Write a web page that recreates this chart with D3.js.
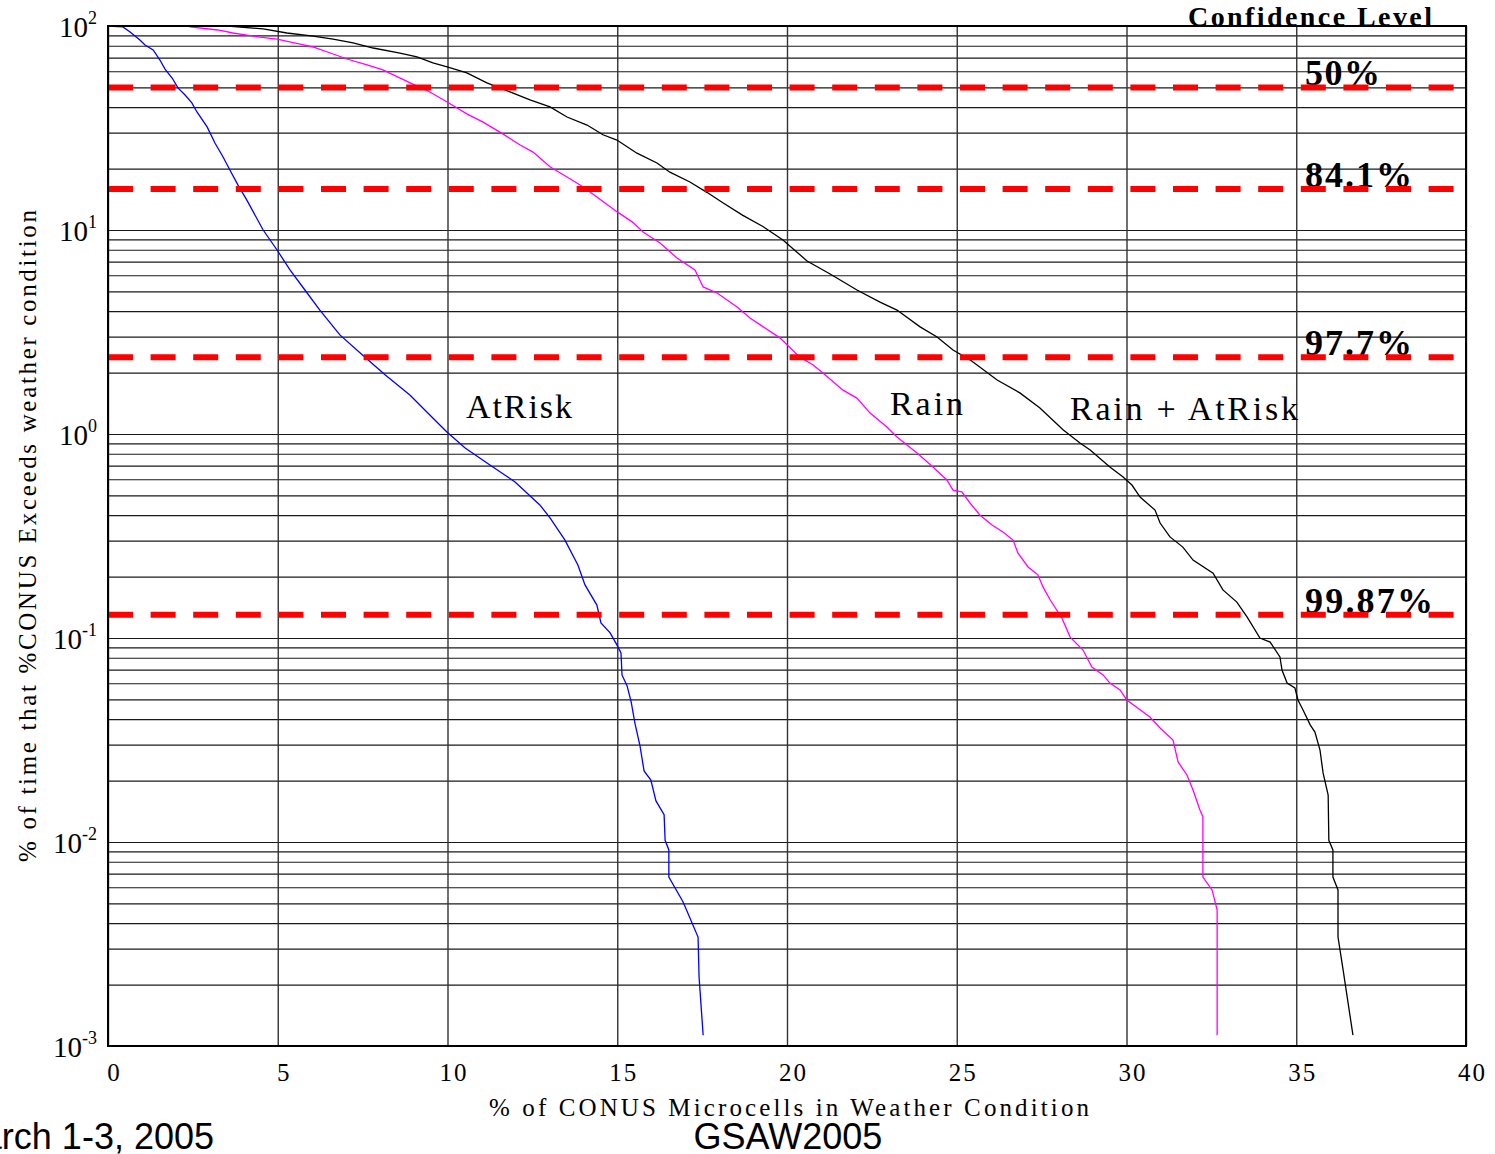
<!DOCTYPE html>
<html>
<head>
<meta charset="utf-8">
<script src="https://cdn.jsdelivr.net/npm/d3@7"></script>
<style>
body { margin: 0; background: #fff; }
svg { display: block; }
</style>
</head>
<body>
<script>
// x: % of CONUS microcells, y: % of time exceeded (log)
var xTicks = [0, 5, 10, 15, 20, 25, 30, 35, 40];
var yExponents = [2, 1, 0, -1, -2, -3];

var atRiskX = [0, 0.44, 0.65, 0.94, 1.09, 1.33, 1.53, 1.68, 1.89, 2.06, 2.27, 2.47, 2.62, 2.92, 3.15, 3.39, 3.59, 3.83, 4.09,
    4.57, 4.98, 5.36, 5.80, 6.24, 6.83, 7.57, 8.16, 8.90, 9.48, 9.99, 10.52, 11.25, 11.99, 12.72, 13.02, 13.46, 13.84,
    14.05, 14.40, 14.52, 14.79, 14.99, 15.11, 15.14, 15.29, 15.41, 15.52, 15.67, 15.79, 15.99, 16.14, 16.38, 16.41,
    16.52, 16.52, 16.94, 17.38, 17.41, 17.53];
var atRiskY = [100, 99, 93.5, 85.4, 80.7, 76.3, 68.1, 61.5, 55.6, 49.7, 45.9, 42.0, 37.9, 32.0, 26.7, 22.8, 19.7, 16.6, 14.0,
    10.0, 7.98, 6.37, 5.08, 4.05, 3.06, 2.38, 1.95, 1.55, 1.24, 1.02, 0.854, 0.705, 0.582, 0.449, 0.388, 0.302, 0.228,
    0.182, 0.145, 0.1185, 0.106, 0.0925, 0.0844, 0.0659, 0.0582, 0.0486, 0.0383, 0.0296, 0.0223, 0.0201, 0.0159, 0.0136, 0.0102,
    0.00914, 0.00673, 0.00508, 0.00342, 0.00218, 0.00113];

var rainX = [0, 2.42, 2.42, 3.24, 3.68, 4.09, 4.48, 4.98, 5.66, 6.04, 6.63, 7.04, 7.63, 8.10, 8.90, 9.48, 9.99, 10.57, 11.05,
    11.63, 12.14, 12.52, 13.02, 13.52, 13.99, 14.40, 14.99, 15.46, 15.76, 16.26, 16.76, 17.29, 17.53, 17.94, 18.53, 18.91,
    19.79, 20.38, 20.77, 21.06, 21.65, 22.06, 22.44, 22.95, 23.24, 23.83, 24.30, 24.71, 24.89, 25.15, 25.39, 25.68, 26.04,
    26.36, 26.66, 26.80, 27.10, 27.39, 27.54, 27.75, 28.10, 28.34, 28.72, 28.98, 29.31, 29.51, 29.81, 30.01, 30.69, 30.99,
    31.37, 31.52, 31.78, 31.96, 32.16, 32.25, 32.25, 32.52, 32.67, 32.67];
var rainY = [100, 100, 99, 95.6, 92.4, 90.3, 88.3, 86.3, 81.6, 78.9, 72.9, 68.9, 64.4, 60.9, 52.6, 47.5, 42.4, 37.1, 33.8,
    29.6, 26.1, 24.1, 20.4, 18.2, 16.3, 14.5, 12.3, 10.9, 9.77, 8.63, 7.29, 6.37, 5.26, 4.91, 4.19, 3.70,
    2.96, 2.38, 2.18, 1.99, 1.64, 1.50, 1.27, 1.08, 0.966, 0.807, 0.689, 0.595, 0.531, 0.520, 0.459, 0.401, 0.358,
    0.331, 0.302, 0.261, 0.223, 0.204, 0.178, 0.154, 0.125, 0.101, 0.0873, 0.0721, 0.0659, 0.0601, 0.0556, 0.0497, 0.0410, 0.0362,
    0.0316, 0.0247, 0.0213, 0.0180, 0.0144, 0.0133, 0.00673, 0.00582, 0.00464, 0.00113];

var bothX = [0, 3.53, 4.57, 5.27, 6.04, 6.63, 7.22, 7.81, 8.60, 9.10, 9.57, 9.99, 10.57, 11.16, 11.84, 12.43, 13.02, 13.52,
    14.11, 14.58, 14.99, 15.58, 16.17, 16.55, 17.14, 17.64, 18.11, 18.70, 19.29, 19.88, 20.59, 21.27, 22.06, 22.74, 23.24,
    23.92, 24.42, 24.89, 25.39, 26.19, 26.86, 27.45, 28.13, 28.63, 28.93, 29.51, 29.90, 30.16, 30.40, 30.84, 30.99, 31.28,
    31.66, 31.96, 32.55, 32.84, 33.25, 33.55, 33.93, 34.23, 34.52, 34.58, 34.73, 34.96, 35.05, 35.20, 35.41, 35.55, 35.70,
    35.79, 35.94, 35.96, 36.08, 36.08, 36.23, 36.23, 36.38, 36.67];
var bothY = [100, 100, 96.7, 92.4, 89.3, 86.3, 82.6, 78.0, 73.7, 70.5, 65.9, 63.0, 58.9, 52.6, 47.5, 43.4, 40.1, 35.8,
    32.7, 29.3, 27.6, 23.8, 21.3, 19.2, 17.2, 15.3, 13.6, 11.8, 10.4, 8.94, 7.05, 6.09, 5.08, 4.43, 4.05,
    3.35, 2.99, 2.58, 2.31, 1.84, 1.59, 1.34, 1.05, 0.904, 0.835, 0.689, 0.615, 0.562, 0.491, 0.424, 0.366, 0.313,
    0.279, 0.241, 0.208, 0.172, 0.150, 0.127, 0.100, 0.0955, 0.0807, 0.0697, 0.0601, 0.0569, 0.0497, 0.0444, 0.0375, 0.0346, 0.0282,
    0.0218, 0.0170, 0.0102, 0.00914, 0.00673, 0.00582, 0.00342, 0.00236, 0.00113];

var confidenceLabels = ["50%", "84.1%", "97.7%", "99.87%"];
var confidenceLevels = [50, 15.9, 2.38, 0.13];

(function() {
    var w = 1495;
    var h = 1154;
    var pLeft = 108, pRight = 1466, pTop = 26, pBottom = 1046;
    var serif = "'Liberation Serif', 'Times New Roman', serif";

    var svg = d3.select("body").append("svg")
        .attr("width", w)
        .attr("height", h)
        .style("background-color", "#fff");

    var x = d3.scaleLinear().domain([0, 40]).range([pLeft, pRight]);
    var y = d3.scaleLog().domain([1e-3, 1e2]).range([pBottom, pTop]);

    // horizontal grid, every 1..9 of each decade
    var hGrid = svg.append("g")
        .attr("transform", "translate(" + pLeft + ",0)")
        .call(d3.axisLeft(y).tickValues(y.ticks()).tickSize(-(pRight - pLeft)).tickFormat(""));
    hGrid.select(".domain").remove();
    hGrid.selectAll("line").attr("stroke", "#1a1a1a").attr("stroke-width", 1.2);

    // vertical grid
    var vGrid = svg.append("g")
        .attr("transform", "translate(0," + pBottom + ")")
        .call(d3.axisBottom(x).tickValues(xTicks).tickSize(-(pBottom - pTop)).tickFormat(""));
    vGrid.select(".domain").remove();
    vGrid.selectAll("line").attr("stroke", "#333").attr("stroke-width", 1.4);

    // x tick labels
    var xAxis = svg.append("g")
        .attr("transform", "translate(0," + pBottom + ")")
        .call(d3.axisBottom(x).tickValues(xTicks).tickSize(0).tickPadding(17));
    xAxis.select(".domain").remove();
    xAxis.selectAll("text")
        .attr("dx", 6)
        .attr("font-family", serif)
        .attr("font-size", 25)
        .attr("letter-spacing", 2)
        .attr("fill", "#000");

    // y tick labels 10^k
    var yLab = svg.append("g").selectAll("text")
        .data(yExponents)
        .enter()
        .append("text")
        .attr("x", 97)
        .attr("y", function(d) { return y(Math.pow(10, d)) + 11; })
        .attr("text-anchor", "end")
        .attr("font-family", serif)
        .attr("font-size", 29)
        .attr("fill", "#000");
    yLab.append("tspan").text("10");
    yLab.append("tspan")
        .attr("dy", -13)
        .attr("font-size", 18)
        .text(function(d) { return d; });

    // curves
    var line = d3.line()
        .x(function(d) { return x(d[0]); })
        .y(function(d) { return y(d[1]); });

    var series = [
        { x: atRiskX, y: atRiskY, color: "#0000ff" },
        { x: rainX, y: rainY, color: "#ff00ff" },
        { x: bothX, y: bothY, color: "#000000" }
    ];
    svg.append("g").selectAll("path")
        .data(series)
        .enter()
        .append("path")
        .attr("d", function(s) { return line(d3.zip(s.x, s.y)); })
        .attr("fill", "none")
        .attr("stroke", function(s) { return s.color; })
        .attr("stroke-width", 1.3);

    // confidence labels
    svg.append("g").selectAll("text")
        .data(confidenceLevels)
        .enter()
        .append("text")
        .attr("x", 1305)
        .attr("y", function(d) { return y(d) - 2; })
        .attr("font-family", serif)
        .attr("font-weight", "bold")
        .attr("font-size", 36)
        .attr("textLength", function(d, i) { return [75, 107, 107, 128][i]; })
        .attr("lengthAdjust", "spacing")
        .text(function(d, i) { return confidenceLabels[i]; });

    // red dashed confidence lines
    svg.append("g").selectAll("line")
        .data(confidenceLevels)
        .enter()
        .append("line")
        .attr("x1", x(0))
        .attr("x2", 1455)
        .attr("y1", function(d) { return y(d); })
        .attr("y2", function(d) { return y(d); })
        .attr("stroke", "#ff0000")
        .attr("stroke-width", 6)
        .attr("stroke-dasharray", "25,17.6");

    // frame
    svg.append("rect")
        .attr("x", pLeft)
        .attr("y", pTop)
        .attr("width", pRight - pLeft)
        .attr("height", pBottom - pTop)
        .attr("fill", "none")
        .attr("stroke", "#000")
        .attr("stroke-width", 2);

    // curve names
    var names = [
        { t: "AtRisk", x: 466, y: 418, len: 106 },
        { t: "Rain", x: 890, y: 415, len: 73 },
        { t: "Rain + AtRisk", x: 1070, y: 420, len: 228 }
    ];
    svg.append("g").selectAll("text")
        .data(names)
        .enter()
        .append("text")
        .attr("x", function(d) { return d.x; })
        .attr("y", function(d) { return d.y; })
        .attr("font-family", serif)
        .attr("font-size", 34)
        .attr("textLength", function(d) { return d.len; })
        .attr("lengthAdjust", "spacing")
        .text(function(d) { return d.t; });

    svg.append("text")
        .attr("x", 1188)
        .attr("y", 26)
        .attr("font-family", serif)
        .attr("font-weight", "bold")
        .attr("font-size", 28)
        .attr("textLength", 244)
        .attr("lengthAdjust", "spacing")
        .text("Confidence Level");

    // axis titles
    svg.append("text")
        .attr("x", 489)
        .attr("y", 1116)
        .attr("font-family", serif)
        .attr("font-size", 25)
        .attr("textLength", 600)
        .attr("lengthAdjust", "spacing")
        .text("% of CONUS Microcells in Weather Condition");

    svg.append("text")
        .attr("transform", "translate(36,536) rotate(-90)")
        .attr("x", -326)
        .attr("y", 0)
        .attr("font-family", serif)
        .attr("font-size", 25)
        .attr("textLength", 652)
        .attr("lengthAdjust", "spacing")
        .text("% of time that %CONUS Exceeds weather condition");

    // slide footer (left part runs off the page, as in the original slide)
    svg.append("text")
        .attr("x", 214)
        .attr("y", 1149)
        .attr("text-anchor", "end")
        .attr("font-family", "'Liberation Sans', Arial, sans-serif")
        .attr("font-size", 36)
        .text("March 1-3, 2005");

    svg.append("text")
        .attr("x", 788)
        .attr("y", 1149)
        .attr("text-anchor", "middle")
        .attr("font-family", "'Liberation Sans', Arial, sans-serif")
        .attr("font-size", 36)
        .text("GSAW2005");
})();
</script>
</body>
</html>
